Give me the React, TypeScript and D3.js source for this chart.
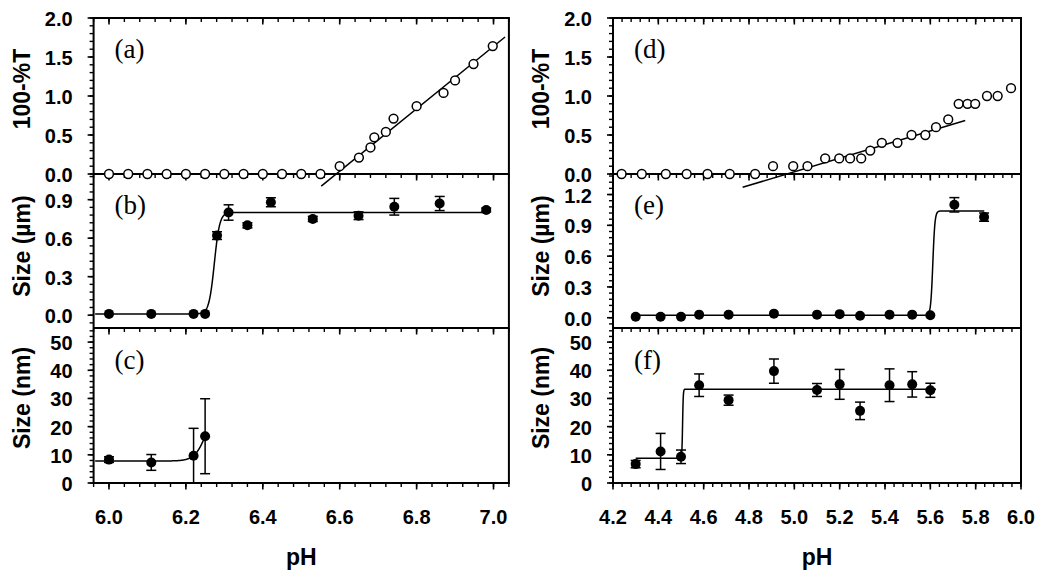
import React from "react";
import * as d3 from "d3";

// ---------- Panel (a): 100-%T vs pH ----------
const phA = [6.0, 6.05, 6.1, 6.15, 6.2, 6.25, 6.3, 6.35, 6.4, 6.45, 6.5, 6.55, 6.6, 6.65, 6.68, 6.69, 6.72, 6.74, 6.8, 6.87, 6.9, 6.948, 6.998];
const tA = [0, 0, 0, 0, 0, 0, 0, 0, 0, 0, 0, 0, 0.1, 0.21, 0.34, 0.47, 0.54, 0.71, 0.87, 1.04, 1.2, 1.41, 1.64];
const fitA = { slope: 4.0, x0: 6.591, start: 6.552, end: 7.03 };

// ---------- Panel (b): Size (µm) ----------
const phB = [6.0, 6.11, 6.22, 6.25, 6.281, 6.311, 6.36, 6.421, 6.53, 6.649, 6.742, 6.86, 6.981];
const sizeB = [0.01, 0.01, 0.01, 0.01, 0.62, 0.8, 0.7, 0.88, 0.75, 0.775, 0.845, 0.87, 0.82];
const errB = [0, 0, 0, 0, 0.03, 0.06, 0.02, 0.035, 0.02, 0.03, 0.065, 0.055, 0.015];
const fitB = { bottom: 0.01, top: 0.8, mid: 6.274, width: 0.007, start: 5.964, end: 6.981 };

// ---------- Panel (c): Size (nm) ----------
const phC = [6.0, 6.11, 6.22, 6.25];
const sizeC = [8.3, 7.3, 9.7, 16.6];
const errC = [1.0, 2.8, 9.7, 13.3];
const fitC = { bottom: 7.8, top: 27.8, mid: 6.2536, width: 0.015, start: 5.964, end: 6.25 };

// ---------- Panel (d): 100-%T vs pH ----------
const phD = [4.238, 4.327, 4.433, 4.525, 4.617, 4.715, 4.827, 4.906, 4.995, 5.058, 5.136, 5.198, 5.246, 5.295, 5.335, 5.386, 5.455, 5.517, 5.578, 5.625, 5.679, 5.725, 5.764, 5.798, 5.85, 5.897, 5.956];
const tD = [0, 0, 0, 0, 0, 0, 0, 0.1, 0.1, 0.1, 0.2, 0.2, 0.2, 0.2, 0.3, 0.4, 0.4, 0.5, 0.5, 0.6, 0.7, 0.9, 0.9, 0.9, 1.0, 1.0, 1.1];
const fitD = { slope: 0.873, x0: 4.967, start: 4.772, end: 5.754 };

// ---------- Panel (e): Size (µm) ----------
const phE = [4.3, 4.41, 4.5, 4.58, 4.71, 4.91, 5.1, 5.2, 5.29, 5.42, 5.52, 5.6, 5.706, 5.837];
const sizeE = [0.01, 0.01, 0.01, 0.03, 0.03, 0.04, 0.03, 0.035, 0.02, 0.03, 0.03, 0.025, 1.1, 0.98];
const errE = [0, 0, 0, 0, 0, 0, 0, 0, 0, 0, 0, 0, 0.07, 0.04];
const fitE = { bottom: 0.023, top: 1.04, mid: 5.611, width: 0.0047, start: 4.3, end: 5.838 };

// ---------- Panel (f): Size (nm) ----------
const phF = [4.3, 4.41, 4.5, 4.58, 4.71, 4.91, 5.1, 5.2, 5.29, 5.42, 5.52, 5.6];
const sizeF = [6.7, 11.2, 9.3, 34.7, 29.4, 39.7, 33.0, 35.0, 25.6, 34.7, 35.0, 32.9];
const errF = [1.3, 6.4, 2.4, 4.0, 1.8, 4.3, 2.3, 5.3, 3.1, 5.8, 4.5, 2.5];
const fitF = { bottom: 8.8, top: 33.3, mid: 4.507, width: 0.0015, start: 4.3, end: 5.625 };

// ---------- Axis tick settings ----------
const xTicksLeft = [6.0, 6.2, 6.4, 6.6, 6.8, 7.0];
const xTicksRight = [4.2, 4.4, 4.6, 4.8, 5.0, 5.2, 5.4, 5.6, 5.8, 6.0];
const yTicksT = [0, 0.5, 1.0, 1.5, 2.0];
const yTicksUm = [0, 0.3, 0.6, 0.9];
const yTicksUmE = [0, 0.3, 0.6, 0.9, 1.2];
const yTicksNm = [0, 10, 20, 30, 40, 50];

const panelLabels = ["(a)", "(b)", "(c)", "(d)", "(e)", "(f)"];

const TOP = 18, R1 = 174, R2 = 328, BOT = 483;
const SANS = "'Liberation Sans', Arial, sans-serif";
const SERIF = "'Liberation Serif', 'Times New Roman', serif";

function stepTicks(d0: number, d1: number, step: number) {
  const out: number[] = [];
  const i0 = Math.ceil(d0 / step - 1e-6), i1 = Math.floor(d1 / step + 1e-6);
  for (let i = i0; i <= i1; i++) out.push(+(i * step).toFixed(6));
  return out;
}

function sigmoidPath(x: any, y: any, f: any) {
  const pts = d3.range(f.start, f.end, 0.0005).concat([f.end]);
  const line = d3.line<number>()
    .x((p) => x(p))
    .y((p) => y(f.bottom + (f.top - f.bottom) / (1 + Math.exp(-(p - f.mid) / f.width))));
  return line(pts) || "";
}

function linePath(x: any, y: any, f: any) {
  const line = d3.line<number>().x((p) => x(p)).y((p) => y(f.slope * (p - f.x0)));
  return line([f.start, f.end]) || "";
}

function YAxis({ x0, y, majors, minorStep, fmt, label, labelY }: any) {
  const [d0, d1] = y.domain();
  const minors = stepTicks(d0, d1, minorStep);
  return (
    <g>
      {minors.map((v: number, i: number) => (
        <line key={"m" + i} x1={x0} x2={x0 - 4} y1={y(v)} y2={y(v)} stroke="#000" strokeWidth={1.4} />
      ))}
      {majors.map((v: number, i: number) => (
        <g key={"M" + i}>
          <line x1={x0} x2={x0 - 6} y1={y(v)} y2={y(v)} stroke="#000" strokeWidth={1.6} />
          <text x={x0 - 21} y={y(v) + 1} textAnchor="end" dominantBaseline="central"
            fontFamily={SANS} fontWeight="bold" fontSize={20}>{fmt(v)}</text>
        </g>
      ))}
      <text transform={`translate(${x0 - 64},${labelY}) rotate(-90)`} textAnchor="middle"
        fontFamily={SANS} fontWeight="bold" fontSize={23}>{label}</text>
    </g>
  );
}

function XTicks({ x, yLine, dir, majors, minorStep }: any) {
  const [d0, d1] = x.domain();
  const minors = stepTicks(d0, d1, minorStep);
  return (
    <g>
      {minors.map((v: number, i: number) => (
        <line key={"m" + i} x1={x(v)} x2={x(v)} y1={yLine} y2={yLine + dir * 4} stroke="#000" strokeWidth={1.4} />
      ))}
      {majors.map((v: number, i: number) => (
        <line key={"M" + i} x1={x(v)} x2={x(v)} y1={yLine} y2={yLine + dir * 6.5} stroke="#000" strokeWidth={1.6} />
      ))}
    </g>
  );
}

function OpenPoints({ x, y, xs, ys }: any) {
  return (
    <g>
      {xs.map((v: number, i: number) => (
        <circle key={i} cx={x(v)} cy={y(ys[i])} r={4.4} fill="#fff" stroke="#000" strokeWidth={1.5} />
      ))}
    </g>
  );
}

function FilledPoints({ x, y, xs, ys, es }: any) {
  return (
    <g>
      {xs.map((v: number, i: number) => {
        const cx = x(v);
        const e = es[i];
        return (
          <g key={i}>
            {e > 0 && (
              <g stroke="#000" strokeWidth={1.5}>
                <line x1={cx} x2={cx} y1={y(ys[i] - e)} y2={y(ys[i] + e)} />
                <line x1={cx - 5} x2={cx + 5} y1={y(ys[i] - e)} y2={y(ys[i] - e)} />
                <line x1={cx - 5} x2={cx + 5} y1={y(ys[i] + e)} y2={y(ys[i] + e)} />
              </g>
            )}
            <circle cx={cx} cy={y(ys[i])} r={5} fill="#000" />
          </g>
        );
      })}
    </g>
  );
}

function Column({ x, xMajors, side }: any) {
  const [xl, xr] = x.range();
  const yT = d3.scaleLinear().domain([0, 2]).range([R1, TOP]);
  const yUm = side === "L"
    ? d3.scaleLinear().domain([-0.1, 1.1]).range([R2, R1])
    : d3.scaleLinear().domain([-0.1, 1.4]).range([R2, R1]);
  const yNm = d3.scaleLinear().domain([0, 55]).range([BOT, R2]);
  const f1 = (v: number) => v.toFixed(1);
  const f0 = (v: number) => v.toFixed(0);
  const L = side === "L" ? 0 : 3;
  const cx = (xl + xr) / 2;
  return (
    <g>
      <rect x={xl} y={TOP} width={xr - xl} height={BOT - TOP} fill="none" stroke="#000" strokeWidth={2} />
      <line x1={xl} x2={xr} y1={R1} y2={R1} stroke="#000" strokeWidth={2} />
      <line x1={xl} x2={xr} y1={R2} y2={R2} stroke="#000" strokeWidth={2} />

      <XTicks x={x} yLine={TOP} dir={1} majors={xMajors} minorStep={0.04} />
      <XTicks x={x} yLine={R1} dir={1} majors={xMajors} minorStep={0.04} />
      <XTicks x={x} yLine={R2} dir={1} majors={xMajors} minorStep={0.04} />
      <XTicks x={x} yLine={BOT} dir={1} majors={xMajors} minorStep={0.04} />
      {xMajors.map((v: number, i: number) => (
        <text key={i} x={x(v)} y={524} textAnchor="middle" fontFamily={SANS} fontWeight="bold" fontSize={20}>{v.toFixed(1)}</text>
      ))}
      <text x={cx} y={565} textAnchor="middle" fontFamily={SANS} fontWeight="bold" fontSize={23}>pH</text>

      <YAxis x0={xl} y={yT} majors={yTicksT} minorStep={0.1} fmt={f1} label="100-%T" labelY={89} />
      <YAxis x0={xl} y={yUm} majors={side === "L" ? yTicksUm : yTicksUmE} minorStep={0.06} fmt={f1} label="Size (µm)" labelY={246} />
      <YAxis x0={xl} y={yNm} majors={yTicksNm} minorStep={2} fmt={f0} label="Size (nm)" labelY={398} />

      <text x={xl + 21} y={TOP + 40} fontFamily={SERIF} fontSize={27}>{panelLabels[L]}</text>
      <text x={xl + 21} y={R1 + 40} fontFamily={SERIF} fontSize={27}>{panelLabels[L + 1]}</text>
      <text x={xl + 21} y={R2 + 41} fontFamily={SERIF} fontSize={27}>{panelLabels[L + 2]}</text>

      {side === "L" ? (
        <g>
          <path d={linePath(x, yT, fitA)} fill="none" stroke="#000" strokeWidth={1.5} />
          <OpenPoints x={x} y={yT} xs={phA} ys={tA} />
          <path d={sigmoidPath(x, yUm, fitB)} fill="none" stroke="#000" strokeWidth={1.5} />
          <FilledPoints x={x} y={yUm} xs={phB} ys={sizeB} es={errB} />
          <path d={sigmoidPath(x, yNm, fitC)} fill="none" stroke="#000" strokeWidth={1.5} />
          <FilledPoints x={x} y={yNm} xs={phC} ys={sizeC} es={errC} />
        </g>
      ) : (
        <g>
          <path d={linePath(x, yT, fitD)} fill="none" stroke="#000" strokeWidth={1.5} />
          <OpenPoints x={x} y={yT} xs={phD} ys={tD} />
          <path d={sigmoidPath(x, yUm, fitE)} fill="none" stroke="#000" strokeWidth={1.5} />
          <FilledPoints x={x} y={yUm} xs={phE} ys={sizeE} es={errE} />
          <path d={sigmoidPath(x, yNm, fitF)} fill="none" stroke="#000" strokeWidth={1.5} />
          <FilledPoints x={x} y={yNm} xs={phF} ys={sizeF} es={errF} />
        </g>
      )}
    </g>
  );
}

export default function App() {
  const xL = d3.scaleLinear().domain([5.96, 7.04]).range([93.6, 508.9]);
  const xR = d3.scaleLinear().domain([4.2, 6.0]).range([613, 1021]);
  return (
    <svg width={1050} height={574} viewBox="0 0 1050 574"
      style={{ position: "absolute", left: 0, top: 0, background: "#fff" }}>
      <rect x={0} y={0} width={1050} height={574} fill="#fff" />
      <Column x={xL} xMajors={xTicksLeft} side="L" />
      <Column x={xR} xMajors={xTicksRight} side="R" />
    </svg>
  );
}
